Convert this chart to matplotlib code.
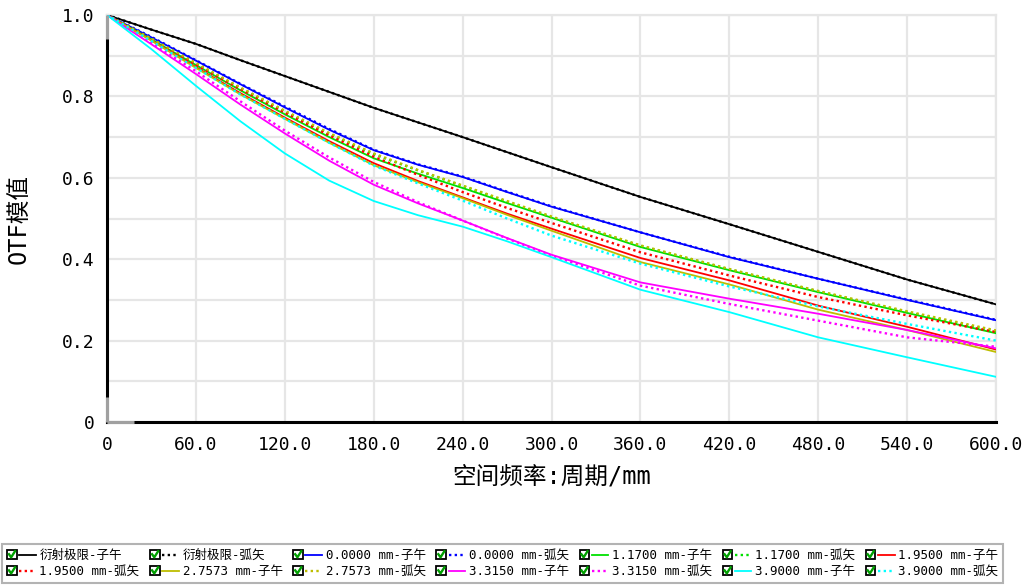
import matplotlib
matplotlib.use("Agg")
import matplotlib.pyplot as plt
from matplotlib.legend_handler import HandlerBase
from matplotlib.patches import Rectangle
from matplotlib.lines import Line2D

# 空间频率 (周期/mm)
freq = [0, 30, 60, 90, 120, 150, 180, 210, 240, 270, 300, 360, 420, 480, 540, 600]

# OTF 模值
diff_t = [1.000, 0.964, 0.929, 0.889, 0.850, 0.811, 0.772, 0.736, 0.700, 0.663, 0.626, 0.553, 0.486, 0.418, 0.350, 0.289]
diff_s = [1.000, 0.964, 0.929, 0.889, 0.850, 0.811, 0.772, 0.736, 0.700, 0.663, 0.626, 0.553, 0.486, 0.418, 0.350, 0.289]
f0_t = [1.000, 0.945, 0.888, 0.830, 0.773, 0.718, 0.668, 0.632, 0.602, 0.565, 0.529, 0.466, 0.405, 0.352, 0.300, 0.250]
f0_s = [1.000, 0.946, 0.889, 0.831, 0.775, 0.720, 0.669, 0.633, 0.603, 0.566, 0.530, 0.466, 0.406, 0.352, 0.301, 0.251]
f1_t = [1.000, 0.940, 0.877, 0.815, 0.756, 0.700, 0.648, 0.610, 0.575, 0.538, 0.502, 0.430, 0.373, 0.319, 0.268, 0.218]
f1_s = [1.000, 0.941, 0.880, 0.820, 0.762, 0.708, 0.658, 0.618, 0.580, 0.541, 0.503, 0.433, 0.375, 0.321, 0.270, 0.222]
f2_t = [1.000, 0.938, 0.872, 0.808, 0.748, 0.690, 0.636, 0.592, 0.552, 0.512, 0.475, 0.403, 0.348, 0.286, 0.234, 0.178]
f2_s = [1.000, 0.940, 0.878, 0.818, 0.760, 0.704, 0.652, 0.607, 0.565, 0.526, 0.489, 0.417, 0.360, 0.307, 0.262, 0.221]
f3_t = [1.000, 0.937, 0.870, 0.805, 0.745, 0.686, 0.631, 0.589, 0.550, 0.509, 0.470, 0.393, 0.338, 0.276, 0.226, 0.172]
f3_s = [1.000, 0.942, 0.882, 0.822, 0.765, 0.710, 0.660, 0.619, 0.581, 0.543, 0.505, 0.434, 0.376, 0.322, 0.272, 0.225]
f4_t = [1.000, 0.928, 0.855, 0.780, 0.709, 0.642, 0.583, 0.537, 0.495, 0.452, 0.411, 0.343, 0.303, 0.266, 0.226, 0.181]
f4_s = [1.000, 0.931, 0.862, 0.788, 0.716, 0.650, 0.590, 0.540, 0.495, 0.451, 0.409, 0.335, 0.290, 0.249, 0.208, 0.185]
f5_t = [1.000, 0.916, 0.826, 0.739, 0.660, 0.593, 0.543, 0.508, 0.480, 0.444, 0.405, 0.325, 0.270, 0.208, 0.159, 0.111]
f5_s = [1.000, 0.936, 0.870, 0.805, 0.745, 0.686, 0.630, 0.586, 0.544, 0.500, 0.458, 0.389, 0.333, 0.284, 0.241, 0.200]

labels = ['衍射极限-子午', '衍射极限-弧矢',
          '0.0000 mm-子午', '0.0000 mm-弧矢',
          '1.1700 mm-子午', '1.1700 mm-弧矢',
          '1.9500 mm-子午', '1.9500 mm-弧矢',
          '2.7573 mm-子午', '2.7573 mm-弧矢',
          '3.3150 mm-子午', '3.3150 mm-弧矢',
          '3.9000 mm-子午', '3.9000 mm-弧矢']
series = [diff_t, diff_s, f0_t, f0_s, f1_t, f1_s, f2_t, f2_s, f3_t, f3_s, f4_t, f4_s, f5_t, f5_s]
colors = ['black', 'black', '#0000ff', '#0000ff', '#00e000', '#00e000', '#ff0000', '#ff0000',
          '#bdbd00', '#bdbd00', '#ff00ff', '#ff00ff', '#00ffff', '#00ffff']

x_ticks = [0, 60, 120, 180, 240, 300, 360, 420, 480, 540, 600]
x_ticklabels = ['0', '60.0', '120.0', '180.0', '240.0', '300.0', '360.0', '420.0', '480.0', '540.0', '600.0']
y_ticks = [0, 0.2, 0.4, 0.6, 0.8, 1.0]
y_ticklabels = ['0', '0.2', '0.4', '0.6', '0.8', '1.0']

mono = ['DejaVu Sans Mono', 'Noto Sans CJK SC']
plt.rcParams['font.family'] = mono

GRID = '#e6e6e6'


class CheckBoxHandler(HandlerBase):
    """复选框 + 线段样式的图例句柄"""
    def create_artists(self, legend, orig, xdescent, ydescent, width, height, fontsize, trans):
        yc = height / 2 - ydescent
        x0 = -xdescent
        s = 7.0
        box = Rectangle((x0, yc - s / 2), s, s, facecolor='white', edgecolor='black',
                        lw=1.3, transform=trans)
        check = Line2D([x0 + 1.4, x0 + 3.0, x0 + 5.8], [yc + 0.2, yc - 2.0, yc + 2.4],
                       color='#00a000', lw=1.7, transform=trans)
        seg = Line2D([x0 + s + 1.8, x0 + width], [yc, yc])
        self.update_prop(seg, orig, legend)
        seg.set_transform(trans)
        return [box, check, seg]


fig = plt.figure(figsize=(10.27, 5.86), dpi=100)
ax = fig.add_axes([107 / 1027, 164 / 586, 889 / 1027, 407 / 586])

handles = []
for i, (vals, lab, col) in enumerate(zip(series, labels, colors)):
    if i % 2 == 0:
        ln, = ax.plot(freq, vals, color=col, lw=1.3, label=lab, zorder=3)
    else:
        ln, = ax.plot(freq, vals, color=col, lw=1.7, linestyle=(0, (1, 1.4)), label=lab, zorder=3)
    handles.append(ln)

ax.set_xlim(0, 600)
ax.set_ylim(0, 1.0)
ax.set_xticks(x_ticks)
ax.set_xticklabels(x_ticklabels)
ax.set_yticks(y_ticks)
ax.set_yticklabels(y_ticklabels)
ax.set_xticks(list(range(0, 601, 60)), minor=True)
ax.set_yticks([k / 10 for k in range(11)], minor=True)
ax.grid(True, which='both', color=GRID, lw=1.6, zorder=0)
ax.set_axisbelow(True)
ax.tick_params(which='both', length=0)
ax.tick_params(axis='x', labelsize=13, pad=10)
ax.tick_params(axis='y', labelsize=13, pad=9)

for side in ['top', 'right']:
    ax.spines[side].set_color(GRID)
    ax.spines[side].set_linewidth(1.6)
for side in ['left', 'bottom']:
    ax.spines[side].set_color('black')
    ax.spines[side].set_linewidth(2.2)

# 坐标轴上的灰色小段
ax.plot([0, 0], [1.0, 0.94], transform=ax.transAxes, color='#a0a0a0', lw=2.2,
        clip_on=False, zorder=5, solid_capstyle='butt')
ax.plot([0, 0], [0.0, 0.062], transform=ax.transAxes, color='#a0a0a0', lw=2.2,
        clip_on=False, zorder=5, solid_capstyle='butt')
ax.plot([0, 0.03], [0, 0], transform=ax.transAxes, color='#a0a0a0', lw=2.2,
        clip_on=False, zorder=5, solid_capstyle='butt')

ax.set_xlabel('空间频率:周期/mm', fontsize=17, labelpad=8)
ax.set_ylabel('OTF模值', fontsize=17, labelpad=22)

# 图例按行排列
order = []
for c in range(7):
    order += [c, c + 7]
leg = fig.legend([handles[k] for k in order], [labels[k] for k in order],
                 handler_map={Line2D: CheckBoxHandler()},
                 ncol=7, loc='lower left', bbox_to_anchor=(2 / 1027, 3 / 586),
                 prop={'family': mono, 'size': 9}, frameon=True, fancybox=False,
                 handlelength=2.3, handletextpad=0.3, columnspacing=0.85,
                 labelspacing=0.25, borderpad=0.4, borderaxespad=0)
leg.get_frame().set_edgecolor('#a0a0a0')
leg.get_frame().set_linewidth(1.5)

fig.savefig('out.png', dpi=100)
